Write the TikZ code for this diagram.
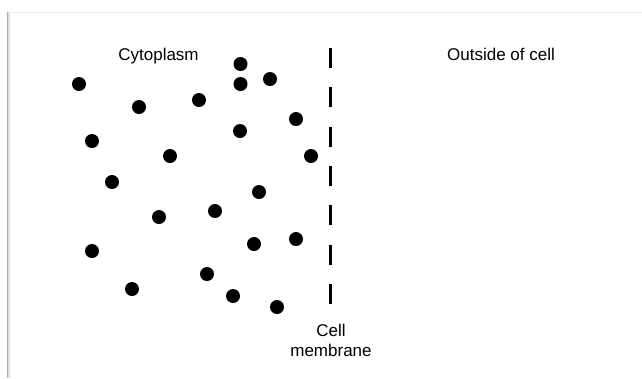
\documentclass[tikz,border=0pt]{standalone}
\usepackage{fontspec}
\setmainfont{Liberation Sans}
\begin{document}
\begin{tikzpicture}[x=1bp,y=-1bp,
  dot/.style={circle,fill=black,inner sep=0pt,minimum size=14bp},
  lbl/.style={font=\fontsize{17bp}{20bp}\selectfont,inner sep=0pt,anchor=base,align=center},
  membrane/.style={line width=3bp,dash pattern=on 20bp off 19.3bp}]
\useasboundingbox (0,0) rectangle (642,378);
\fill[white] (0,0) rectangle (642,378);
% screenshot frame
\draw[line width=1bp,black!7] (8,12) -- (642,12);
\draw[line width=3bp,black!12] (8.5,12) -- (8.5,378);
\draw[line width=1.5bp,black!32] (7.5,12) -- (7.5,378);
% labels
\node[lbl] (cyto) at (158.5,60) {Cytoplasm};
\node[lbl] (out) at (501,60) {Outside of cell};
\node[lbl,anchor=north] (cm) at (331,324) {Cell\\membrane};
% membrane
\coordinate (mtop) at (330,48);
\coordinate (mbot) at (330,304);
\draw[membrane] (mtop) -- (mbot);
% particles
\foreach \n/\x/\y in {1/240.5/64,2/270/79,3/240.5/84,4/79/84,5/199/100,6/139/107,
  7/296/119,8/240/131,9/92/141,10/170/156,11/311/156,12/112/182,13/259/192,
  14/215/211,15/159/217,16/296/239,17/254/244,18/92/251,19/207/274,20/132/289,
  21/233/296,22/277/307}
  \node[dot] (d\n) at (\x,\y) {};
\end{tikzpicture}
\end{document}
